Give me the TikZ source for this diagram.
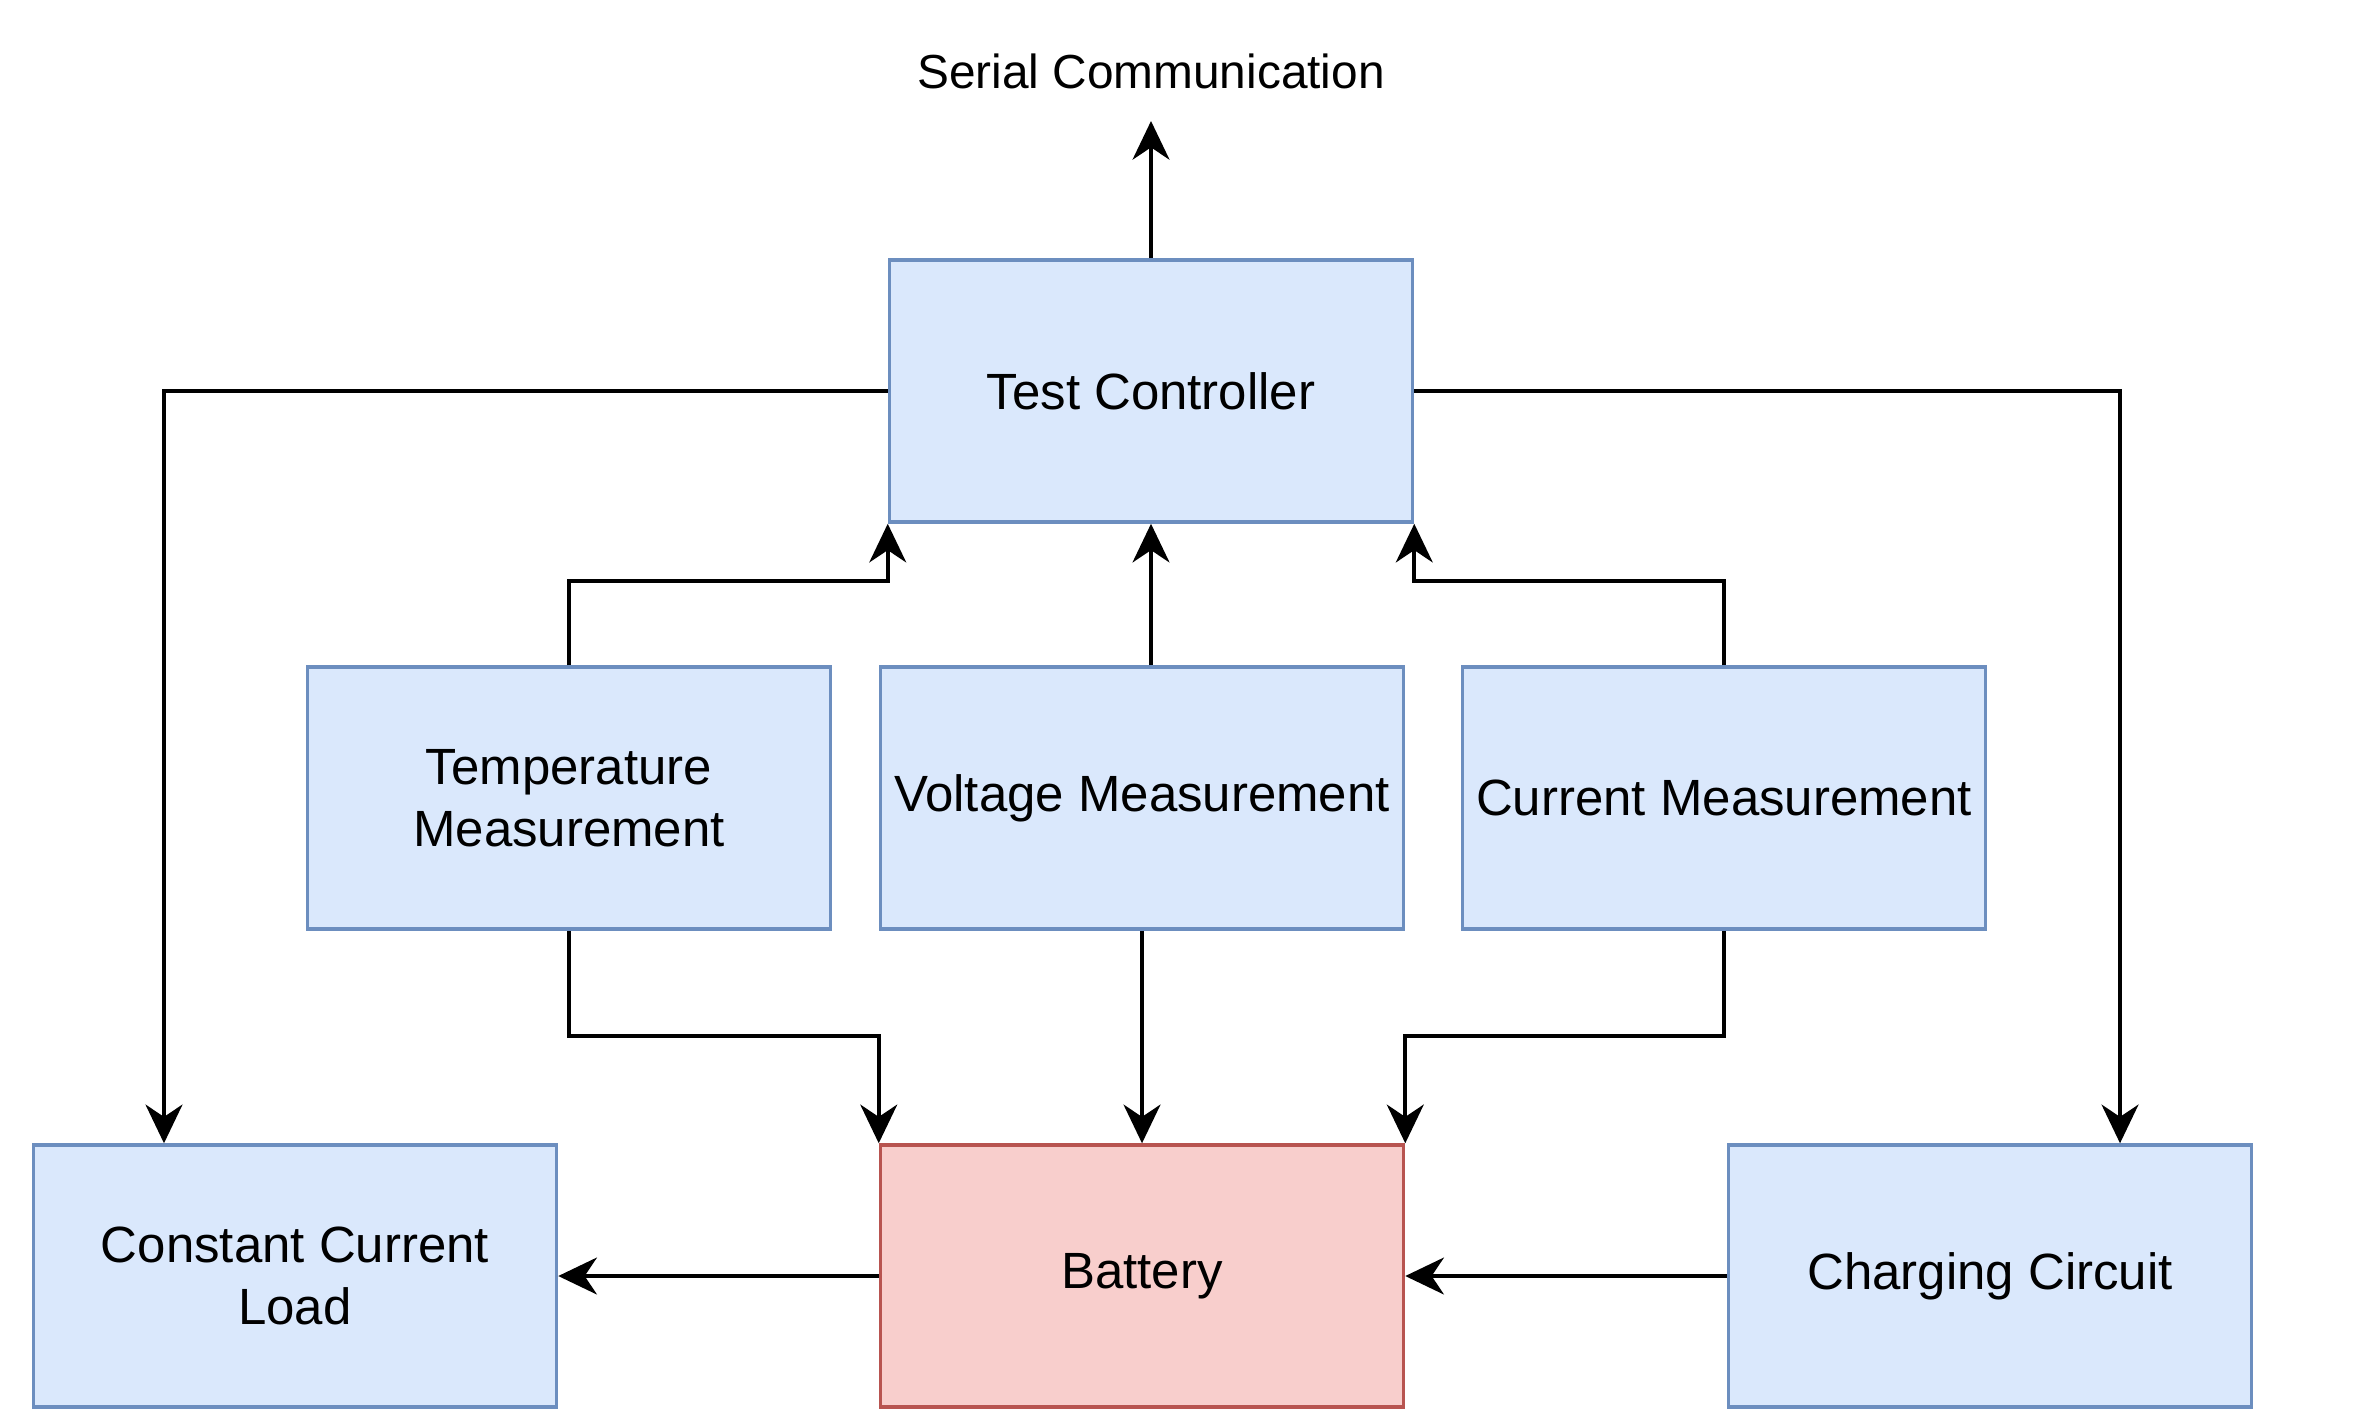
\documentclass[tikz,border=0pt]{standalone}
\usepackage{fontspec}
\setmainfont{Liberation Sans}
\usetikzlibrary{arrows.meta}
\usetikzlibrary{calc}

\definecolor{blockfill}{HTML}{DAE8FC}
\definecolor{blockline}{HTML}{6C8EBF}
\definecolor{cellfill}{HTML}{F8CECC}
\definecolor{cellline}{HTML}{B85450}

\begin{document}
\begin{tikzpicture}[
    >={Stealth[length=11pt,width=10.5pt,inset=3.5pt]},
    line width=1.1pt,
    block/.style={
        draw=blockline,
        fill=blockfill,
        line width=1pt,
        minimum width=5.23cm,
        minimum height=2.62cm,
        align=center,
        inner sep=0pt,
        font=\fontsize{14.5}{17.6}\selectfont
    },
    cell/.style={
        block,
        draw=cellline,
        fill=cellfill
    }
]

\useasboundingbox (0,0) rectangle (23.65,-14.11);

%------------------------------------------------------------
% Blocks
%------------------------------------------------------------

\node[block] (ctrl)  at (11.51,-3.91)  {Test Controller};

\node[block] (temp)  at (5.69,-7.98)   {Temperature\\Measurement};
\node[block] (volt)  at (11.42,-7.98)  {Voltage Measurement};
\node[block] (curr)  at (17.24,-7.98)  {Current Measurement};

\node[block] (load)  at (2.95,-12.76)  {Constant Current\\Load};
\node[cell]  (batt)  at (11.42,-12.76) {Battery};
\node[block] (chrg)  at (19.90,-12.76) {Charging Circuit};

\node[font=\fontsize{13.6}{16}\selectfont]
(serial) at (11.51,-0.71)
{Serial Communication};

%------------------------------------------------------------
% Bend points
%------------------------------------------------------------

\coordinate (ctrlL) at (1.64,-3.91);    % down to the load
\coordinate (ctrlR) at (21.20,-3.91);   % down to the charger
\coordinate (upT)   at (5.69,-5.81);    % temperature -> controller
\coordinate (upC)   at (17.24,-5.81);   % current -> controller
\coordinate (dnT)   at (5.69,-10.36);   % temperature -> battery
\coordinate (dnC)   at (17.24,-10.36);  % current -> battery
\coordinate (serialIn) at (11.51,-1.21);

%------------------------------------------------------------
% Controller outputs
%------------------------------------------------------------

\draw[->]
(ctrl.north)--(serialIn);

\draw[->]
(ctrl.west)--(ctrlL)--(ctrlL |- load.north);

\draw[->]
(ctrl.east)--(ctrlR)--(ctrlR |- chrg.north);

%------------------------------------------------------------
% Measurements up to the controller
%------------------------------------------------------------

\draw[->]
(temp.north)--(upT)--(upT -| ctrl.south west)--(ctrl.south west);

\draw[->]
(ctrl.south |- volt.north)--(ctrl.south);

\draw[->]
(curr.north)--(upC)--(upC -| ctrl.south east)--(ctrl.south east);

%------------------------------------------------------------
% Measurements down to the battery
%------------------------------------------------------------

\draw[->]
(temp.south)--(dnT)--(dnT -| batt.north west)--(batt.north west);

\draw[->]
(volt.south)--(batt.north);

\draw[->]
(curr.south)--(dnC)--(dnC -| batt.north east)--(batt.north east);

%------------------------------------------------------------
% Power path
%------------------------------------------------------------

\draw[->]
(batt.west)--(load.east);

\draw[->]
(chrg.west)--(batt.east);

\end{tikzpicture}
\end{document}
